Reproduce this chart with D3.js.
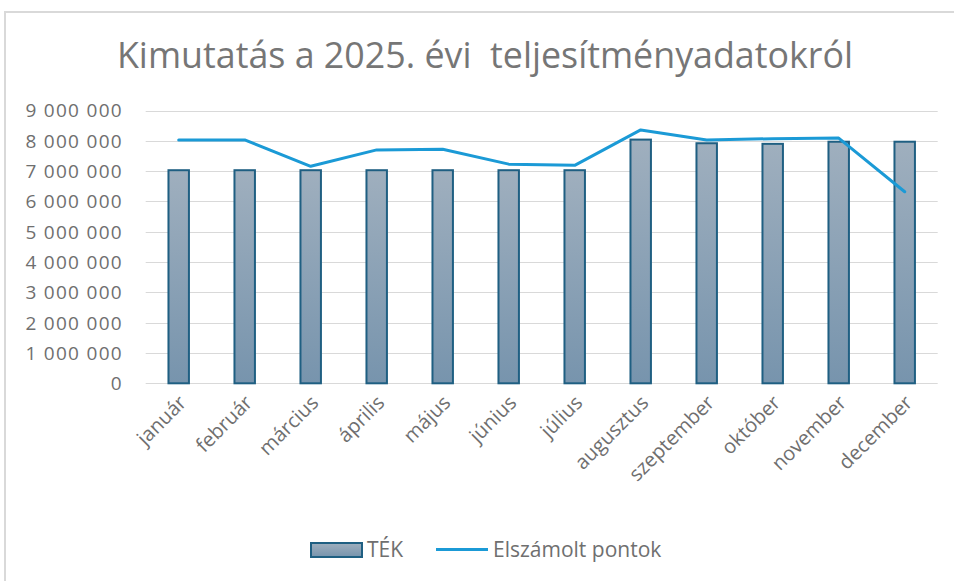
<!DOCTYPE html>
<html>
<head>
<meta charset="utf-8">
<script src="https://cdn.jsdelivr.net/npm/d3@7"></script>
<style>
  body { margin: 0; background: #fff; }
  text { font-family: "Open Sans", "Liberation Sans", sans-serif; fill: #6f6f6f; }
</style>
</head>
<body>
<svg id="chart"></svg>
<script>
const months = ['január', 'február', 'március', 'április', 'május', 'június', 'július',
                'augusztus', 'szeptember', 'október', 'november', 'december'];
const tek = [7030000, 7030000, 7030000, 7030000, 7030000, 7030000, 7030000,
             8040000, 7920000, 7900000, 7970000, 7970000];
const pontok = [8030000, 8030000, 7160000, 7700000, 7720000, 7230000, 7190000,
                8360000, 8030000, 8070000, 8090000, 6320000];
const yTicks = [0, 1000000, 2000000, 3000000, 4000000, 5000000, 6000000, 7000000, 8000000, 9000000];

const width = 954, height = 581;
const svg = d3.select('#chart').attr('width', width).attr('height', height);

// outer frame (only top and left edges show inside the picture)
svg.append('rect')
   .attr('x', 5).attr('y', 12)
   .attr('width', width + 20).attr('height', height + 20)
   .attr('fill', 'none').attr('stroke', '#d9d9d9').attr('stroke-width', 2);

const defs = svg.append('defs');
const grad = defs.append('linearGradient').attr('id', 'barFill')
   .attr('x1', 0).attr('y1', 0).attr('x2', 0).attr('y2', 1);
grad.append('stop').attr('offset', '0%').attr('stop-color', '#9fafbe');
grad.append('stop').attr('offset', '100%').attr('stop-color', '#7794ad');

const x = d3.scaleBand().domain(months).range([145.7, 937.7]).paddingInner(0.69).paddingOuter(0.345);
const y = d3.scaleLinear().domain([0, 9000000]).range([383.3, 110.5]);

const fmt = v => d3.format(',')(v).replace(/,/g, ' ');

// gridlines
svg.selectAll('.grid')
   .data(yTicks).enter()
   .append('line')
   .attr('class', 'grid')
   .attr('x1', 145.7).attr('x2', 937.7)
   .attr('y1', d => Math.round(y(d)) + 0.5).attr('y2', d => Math.round(y(d)) + 0.5)
   .attr('stroke', '#d9d9d9').attr('stroke-width', 1);

// y labels
svg.selectAll('.ylab')
   .data(yTicks).enter()
   .append('text')
   .attr('class', 'ylab')
   .attr('x', 123)
   .attr('y', d => y(d))
   .attr('dy', '0.36em')
   .attr('text-anchor', 'end')
   .style('font-size', '19px')
   .style('letter-spacing', '1.3px')
   .text(d => fmt(d));

// bars
svg.selectAll('.bar')
   .data(tek).enter()
   .append('rect')
   .attr('class', 'bar')
   .attr('x', (d, i) => x(months[i]))
   .attr('width', x.bandwidth())
   .attr('y', d => y(d))
   .attr('height', d => y(0) - y(d))
   .attr('fill', 'url(#barFill)')
   .attr('stroke', '#1f5f82').attr('stroke-width', 2);

// line
const line = d3.line()
   .x((d, i) => x(months[i]) + x.bandwidth() / 2)
   .y(d => y(d));
svg.append('path')
   .datum(pontok)
   .attr('d', line)
   .attr('fill', 'none')
   .attr('stroke', '#1b9ad6').attr('stroke-width', 3)
   .attr('stroke-linejoin', 'round').attr('stroke-linecap', 'round');

// x labels
svg.selectAll('.xlab')
   .data(months).enter()
   .append('text')
   .attr('class', 'xlab')
   .attr('transform', d => `translate(${x(d) + x.bandwidth() / 2 + 4},${399}) rotate(-45)`)
   .attr('text-anchor', 'end')
   .attr('dy', '0.35em')
   .style('font-size', '20px')
   .text(d => d);

// title
svg.append('text')
   .attr('x', 485).attr('y', 68)
   .attr('text-anchor', 'middle')
   .style('font-size', '35.8px')
   .style('fill', '#767676')
   .attr('xml:space', 'preserve')
   .text('Kimutatás a 2025. évi  teljesítményadatokról');

// legend
svg.append('rect')
   .attr('x', 311).attr('y', 543).attr('width', 51).attr('height', 14)
   .attr('fill', 'url(#barFill)')
   .attr('stroke', '#1f5f82').attr('stroke-width', 2);
svg.append('text')
   .attr('x', 367).attr('y', 557)
   .style('font-size', '21px')
   .text('TÉK');
svg.append('line')
   .attr('x1', 436).attr('x2', 488).attr('y1', 549.5).attr('y2', 549.5)
   .attr('stroke', '#1b9ad6').attr('stroke-width', 3);
svg.append('text')
   .attr('x', 493).attr('y', 557)
   .style('font-size', '21px')
   .text('Elszámolt pontok');
</script>
</body>
</html>
